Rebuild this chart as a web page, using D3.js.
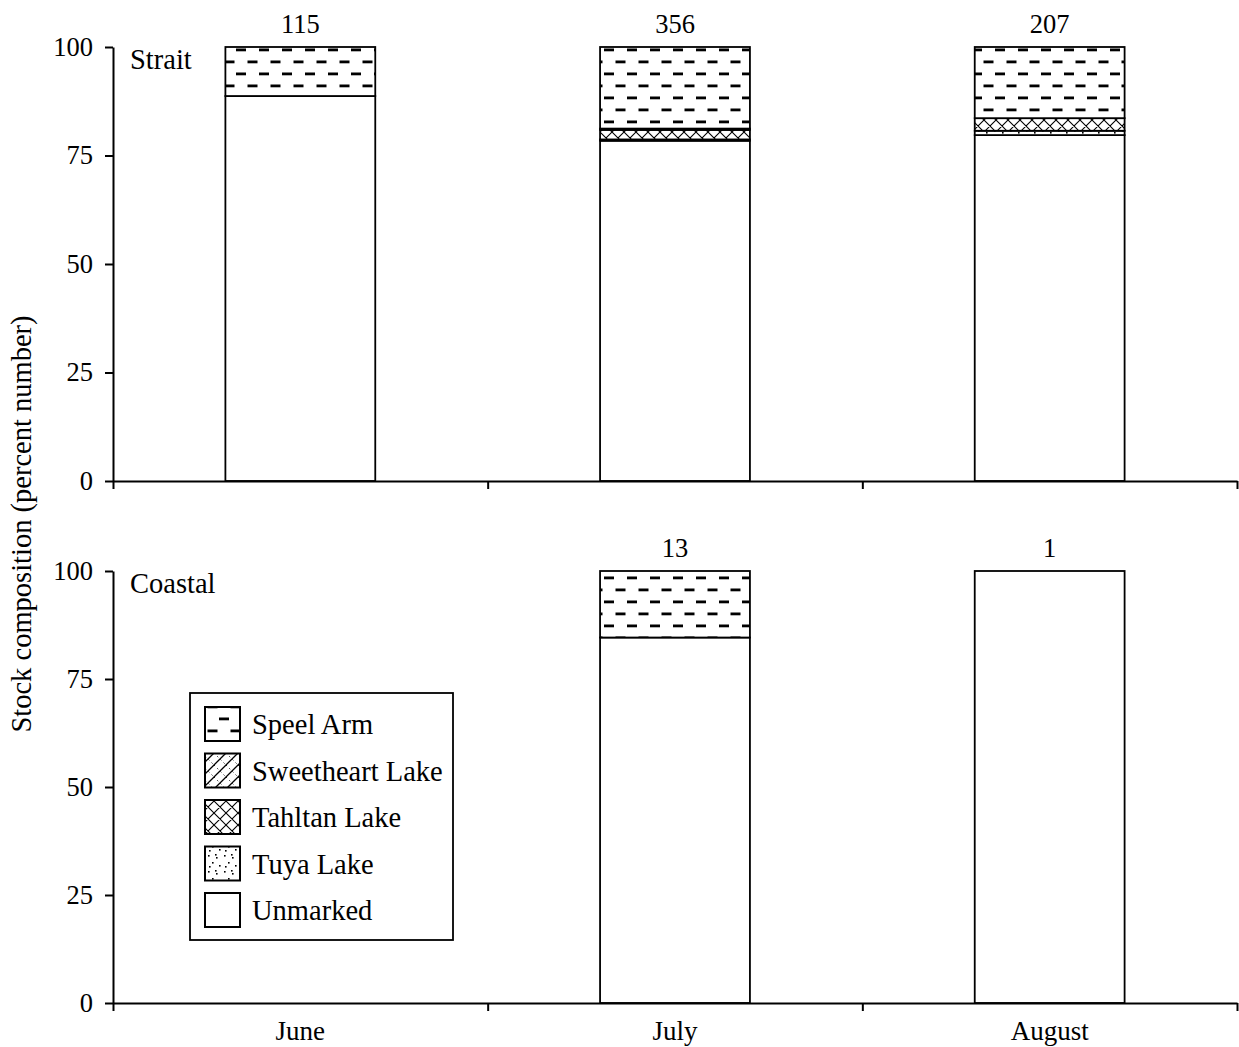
<!DOCTYPE html>
<html>
<head>
<meta charset="utf-8">
<script src="https://cdn.jsdelivr.net/npm/d3@7"></script>
<style>
  html, body { margin: 0; padding: 0; background: #fff; }
  svg { display: block; }
  text { font-family: "Liberation Serif", "Times New Roman", serif; fill: #000; }
</style>
</head>
<body>
<svg id="chart" width="1239" height="1047"></svg>
<script>
// ---- data ----
const months = ["June", "July", "August"];
const stocks = ["Unmarked", "Tuya Lake", "Tahltan Lake", "Sweetheart Lake", "Speel Arm"]; // bottom -> top
const legendOrder = ["Speel Arm", "Sweetheart Lake", "Tahltan Lake", "Tuya Lake", "Unmarked"];
const yTicks = [0, 25, 50, 75, 100];

// Strait (percent of sample)
const straitUnmarked   = [88.7, 78.4, 79.7];
const straitTuya       = [0,    0.3,  1.0];
const straitTahltan    = [0,    2.2,  2.9];
const straitSweetheart = [0,    0.3,  0];
const straitSpeel      = [11.3, 18.8, 16.4];
const straitN          = ["115", "356", "207"];

// Coastal (percent of sample); June had no sample
const coastalUnmarked   = [null, 84.6, 100];
const coastalTuya       = [null, 0,    0];
const coastalTahltan    = [null, 0,    0];
const coastalSweetheart = [null, 0,    0];
const coastalSpeel      = [null, 15.4, 0];
const coastalN          = ["", "13", "1"];

const panels = [
  { name: "Strait", top: 47, bottom: 481, n: straitN,
    series: [straitUnmarked, straitTuya, straitTahltan, straitSweetheart, straitSpeel] },
  { name: "Coastal", top: 571, bottom: 1003, n: coastalN,
    series: [coastalUnmarked, coastalTuya, coastalTahltan, coastalSweetheart, coastalSpeel] }
];

// ---- drawing ----
const svg = d3.select("#chart");
const left = 113, right = 1237;
const FSN = 26.5;   // numbers
const FSW = 28.5;   // words

// patterns
const defs = svg.append("defs");
const pSpeel = defs.append("pattern").attr("id", "p-speel").attr("patternUnits", "userSpaceOnUse")
  .attr("width", 23).attr("height", 24).attr("x", 0).attr("y", 0);
pSpeel.append("rect").attr("width", 23).attr("height", 24).attr("fill", "#fff");
pSpeel.append("rect").attr("x", 6).attr("y", 0.5).attr("width", 10).attr("height", 2.8).attr("fill", "#000");
pSpeel.append("rect").attr("x", -5.5).attr("y", 12.5).attr("width", 10).attr("height", 2.8).attr("fill", "#000");
pSpeel.append("rect").attr("x", 17.5).attr("y", 12.5).attr("width", 10).attr("height", 2.8).attr("fill", "#000");

const pSweet = defs.append("pattern").attr("id", "p-sweet").attr("patternUnits", "userSpaceOnUse")
  .attr("width", 12).attr("height", 12);
pSweet.append("rect").attr("width", 12).attr("height", 12).attr("fill", "#fff");
pSweet.append("path").attr("d", "M0,12 L12,0 M-3,3 L3,-3 M9,15 L15,9").attr("stroke", "#000").attr("stroke-width", 1.3);
pSweet.append("path").attr("d", "M0,0 L12,12").attr("stroke", "#000").attr("stroke-width", 0.8).attr("stroke-dasharray", "1.5,3");

const pTahl = defs.append("pattern").attr("id", "p-tahl").attr("patternUnits", "userSpaceOnUse")
  .attr("width", 12).attr("height", 12);
pTahl.append("rect").attr("width", 12).attr("height", 12).attr("fill", "#fff");
pTahl.append("path").attr("d", "M0,12 L12,0 M-3,3 L3,-3 M9,15 L15,9 M0,0 L12,12 M-3,9 L3,15 M9,-3 L15,3")
  .attr("stroke", "#000").attr("stroke-width", 1.1);

const pTuya = defs.append("pattern").attr("id", "p-tuya").attr("patternUnits", "userSpaceOnUse")
  .attr("width", 16).attr("height", 16);
pTuya.append("rect").attr("width", 16).attr("height", 16).attr("fill", "#fff");
[[2,2],[10,4],[6,9],[13,12],[3,13],[9,1]].forEach(([x,y]) =>
  pTuya.append("rect").attr("x", x).attr("y", y).attr("width", 1.6).attr("height", 1.6).attr("fill", "#000"));

const fills = {
  "Unmarked": "#fff",
  "Tuya Lake": "url(#p-tuya)",
  "Tahltan Lake": "url(#p-tahl)",
  "Sweetheart Lake": "url(#p-sweet)",
  "Speel Arm": "url(#p-speel)"
};

const x = d3.scaleBand().domain(months).range([left, right]).padding(0);
const barW = x.bandwidth() * 0.4;
const xEdge = d3.scaleLinear().domain([0, months.length]).range([left, right]);

panels.forEach((p, pi) => {
  const y = d3.scaleLinear().domain([0, 100]).range([p.bottom, p.top]);
  const g = svg.append("g");

  // stacked data
  const rows = months.map((m, i) => {
    const o = { month: m };
    stocks.forEach((s, si) => { o[s] = p.series[si][i] == null ? 0 : p.series[si][i]; });
    o.has = p.series[0][i] != null;
    return o;
  });
  const stacked = d3.stack().keys(stocks)(rows);

  stacked.forEach(layer => {
    g.append("g").selectAll("rect")
      .data(layer.filter(d => d.data.has && d[1] - d[0] > 0))
      .join("rect")
      .attr("x", d => x(d.data.month) + (x.bandwidth() - barW) / 2)
      .attr("width", barW)
      .attr("y", d => y(d[1]))
      .attr("height", d => y(d[0]) - y(d[1]))
      .attr("fill", fills[layer.key])
      .attr("stroke", "#000")
      .attr("stroke-width", 1.8);
  });

  // sample size labels
  g.append("g").selectAll("text")
    .data(months.map((m, i) => ({ m, n: p.n[i] })).filter(d => d.n !== ""))
    .join("text")
    .attr("x", d => x(d.m) + x.bandwidth() / 2)
    .attr("y", p.top - 14)
    .attr("text-anchor", "middle")
    .attr("font-size", FSN)
    .text(d => d.n);

  // y axis
  const ya = g.append("g").attr("transform", `translate(${left},0)`)
    .call(d3.axisLeft(y).tickValues(yTicks).tickSize(8).tickPadding(12).tickSizeOuter(0));
  ya.select(".domain").attr("stroke-width", 2);
  ya.selectAll(".tick line").attr("stroke-width", 2);
  ya.selectAll("text").attr("font-size", FSN).attr("font-family", "Liberation Serif").attr("fill", "#000");

  // x axis line with boundary ticks
  const xa = g.append("g").attr("transform", `translate(0,${p.bottom})`)
    .call(d3.axisBottom(xEdge).tickValues(d3.range(months.length + 1)).tickSize(8).tickFormat("").tickSizeOuter(0));
  xa.select(".domain").attr("stroke-width", 2);
  xa.selectAll(".tick line").attr("stroke-width", 2);

  // panel label
  g.append("text").attr("x", 130).attr("y", p.top + 22).attr("font-size", FSW).text(p.name);

  if (pi === 1) {
    // month labels
    g.append("g").selectAll("text").data(months).join("text")
      .attr("x", d => x(d) + x.bandwidth() / 2)
      .attr("y", p.bottom + 37)
      .attr("text-anchor", "middle")
      .attr("font-size", 27)
      .text(d => d);

    // legend
    const lg = svg.append("g").attr("transform", "translate(190,693)");
    lg.append("rect").attr("width", 263).attr("height", 247).attr("fill", "#fff")
      .attr("stroke", "#000").attr("stroke-width", 1.8);
    legendOrder.forEach((s, i) => {
      const ry = 14 + i * 46.5;
      lg.append("rect").attr("x", 15).attr("y", ry).attr("width", 35).attr("height", 34)
        .attr("fill", fills[s]).attr("stroke", "#000").attr("stroke-width", 2);
      lg.append("text").attr("x", 62).attr("y", ry + 27).attr("font-size", FSW).text(s);
    });
  }
});

// y axis title
svg.append("text")
  .attr("transform", "translate(31,524) rotate(-90)")
  .attr("text-anchor", "middle")
  .attr("font-size", FSW)
  .text("Stock composition (percent number)");
</script>
</body>
</html>
